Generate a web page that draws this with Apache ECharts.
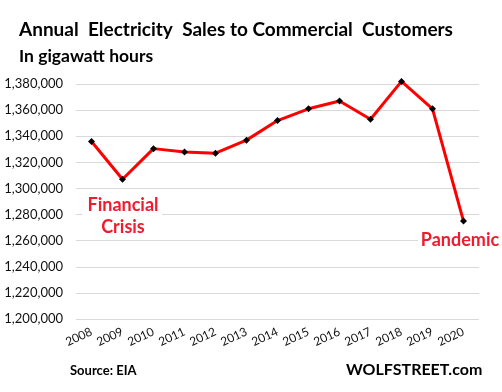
<!DOCTYPE html>
<html><head><meta charset="utf-8">
<script src="https://cdn.jsdelivr.net/npm/echarts@6/dist/echarts.min.js"></script>
<style>html,body{margin:0;padding:0;background:#fff}#c{width:502px;height:392px}</style>
</head><body><div id="c"></div>
<script>
var years = ['2008','2009','2010','2011','2012','2013','2014','2015','2016','2017','2018','2019','2020'];
var sales = [1336000,1307000,1330500,1328000,1327000,1337000,1352000,1361000,1367000,1353000,1382000,1361000,1275000];
var FONT = 'Lato';
var chart = echarts.init(document.getElementById('c'));
chart.setOption({
  animation: false,
  backgroundColor: '#fff',
  grid: {left: 76, right: 23, top: 84, bottom: 73},
  xAxis: {
    type: 'category', data: years, boundaryGap: true,
    axisLine: {show: false}, axisTick: {show: false},
    axisLabel: {interval: 0, rotate: 25, color: '#111', fontFamily: FONT, fontSize: 12, margin: 12}
  },
  yAxis: {
    type: 'value', min: 1200000, max: 1380000, interval: 20000,
    axisLine: {show: false}, axisTick: {show: false},
    splitLine: {lineStyle: {color: '#d9d9d9', width: 1}},
    axisLabel: {color: '#111', fontFamily: FONT, fontSize: 13, margin: 13,
      formatter: function(v){ return v.toLocaleString('en-US'); }}
  },
  series: [{
    type: 'line', data: sales, clip: false,
    lineStyle: {color: '#ff0000', width: 3},
    symbol: 'diamond', symbolSize: 7,
    itemStyle: {color: '#000', borderWidth: 0},
    z: 3
  }],
  graphic: [
    {type: 'text', left: 19, top: 20, style: {text: 'Annual  Electricity  Sales to Commercial  Customers', font: 'bold 19px ' + FONT, fill: '#000'}},
    {type: 'text', left: 19, top: 47, style: {text: 'In gigawatt hours', font: 'bold 17.5px ' + FONT, fill: '#000'}},
    {type: 'rect', shape: {x: 82, y: 193, width: 80, height: 46}, style: {fill: '#fff'}, z: 1},
    {type: 'text', x: 123, y: 194, style: {text: 'Financial\nCrisis', font: 'bold 18px ' + FONT, fill: '#ee1c2e', align: 'center', lineHeight: 22}, z: 10},
    {type: 'rect', shape: {x: 418, y: 230, width: 84, height: 24}, style: {fill: '#fff'}, z: 1},
    {type: 'text', x: 460, y: 231, style: {text: 'Pandemic', font: 'bold 18px ' + FONT, fill: '#ee1c2e', align: 'center'}, z: 10},
    {type: 'text', left: 70, top: 364, style: {text: 'Source: EIA', font: 'bold 13px ' + FONT, fill: '#000'}},
    {type: 'text', left: 346, top: 362, style: {text: 'WOLFSTREET.com', font: 'bold 16px ' + FONT, fill: '#000'}}
  ]
});
</script></body></html>
